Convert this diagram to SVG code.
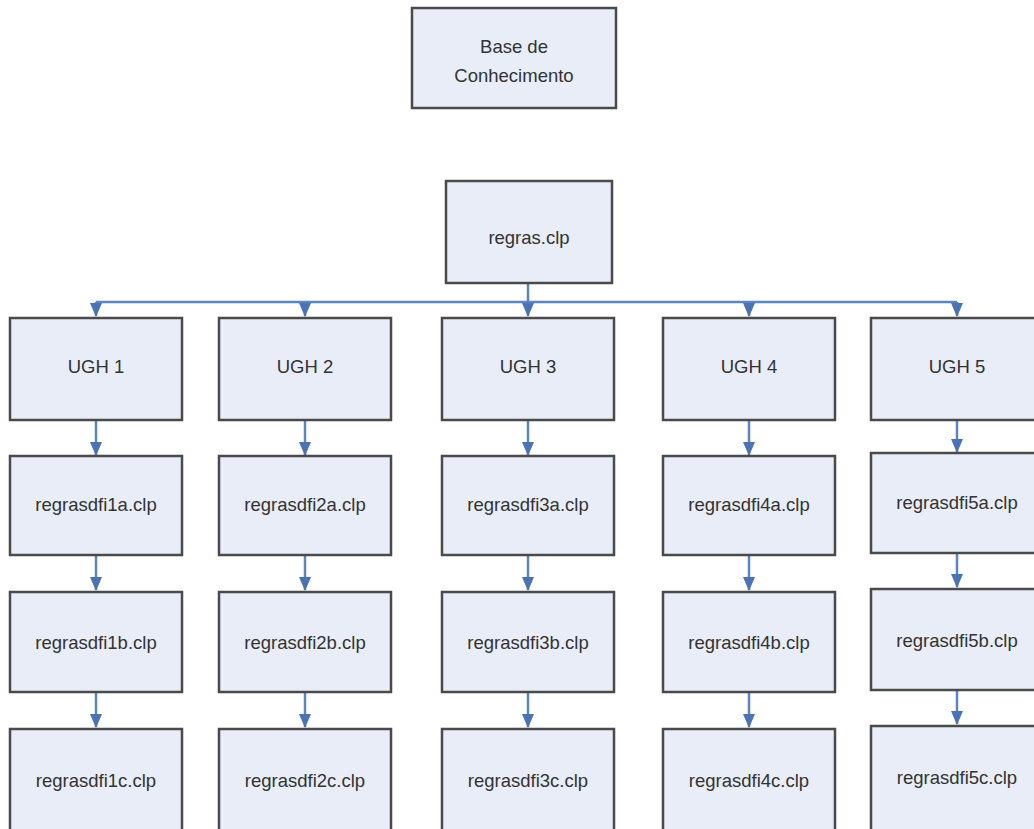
<svg xmlns="http://www.w3.org/2000/svg" width="1034" height="829" viewBox="0 0 1034 829">
<style>
.box{fill:#e8edf7;stroke:#4a4a4a;stroke-width:2.5}
.t{font-family:"Liberation Sans",Arial,sans-serif;font-size:18.5px;fill:#333;text-anchor:middle}
.c{fill:none;stroke:#5b84c4;stroke-width:2.5}
</style>
<defs>
<marker id="ah" markerWidth="14" markerHeight="12" refX="13" refY="6" orient="auto" markerUnits="userSpaceOnUse">
<path d="M0,0 L14,6 L0,12 z" fill="#4a72b8"/>
</marker>
</defs>
<rect width="1034" height="829" fill="#fff"/>
<g id="connectors">
<path class="c" d="M528,284 V316" marker-end="url(#ah)"/>
<path class="c" d="M96,302 H957"/>
<path class="c" d="M96,302 V316" marker-end="url(#ah)"/>
<path class="c" d="M305,302 V316" marker-end="url(#ah)"/>
<path class="c" d="M749,302 V316" marker-end="url(#ah)"/>
<path class="c" d="M957,302 V316" marker-end="url(#ah)"/>
<path class="c" d="M96,421 V455" marker-end="url(#ah)"/>
<path class="c" d="M96,556 V590" marker-end="url(#ah)"/>
<path class="c" d="M96,693 V727" marker-end="url(#ah)"/>
<path class="c" d="M305,421 V455" marker-end="url(#ah)"/>
<path class="c" d="M305,556 V590" marker-end="url(#ah)"/>
<path class="c" d="M305,693 V727" marker-end="url(#ah)"/>
<path class="c" d="M528,421 V455" marker-end="url(#ah)"/>
<path class="c" d="M528,556 V590" marker-end="url(#ah)"/>
<path class="c" d="M528,693 V727" marker-end="url(#ah)"/>
<path class="c" d="M749,421 V455" marker-end="url(#ah)"/>
<path class="c" d="M749,556 V590" marker-end="url(#ah)"/>
<path class="c" d="M749,693 V727" marker-end="url(#ah)"/>
<path class="c" d="M957,421 V452" marker-end="url(#ah)"/>
<path class="c" d="M957,554 V587" marker-end="url(#ah)"/>
<path class="c" d="M957,691 V724" marker-end="url(#ah)"/>
</g>
<g id="base"><rect class="box" x="412" y="8" width="204" height="100"/><text class="t" x="514" y="53">Base de</text><text class="t" x="514" y="82">Conhecimento</text></g>
<g id="regras"><rect class="box" x="446" y="181" width="166" height="102"/><text class="t" x="529" y="244">regras.clp</text></g>
<g id="ugh1"><rect class="box" x="10" y="318" width="172" height="102"/><text class="t" x="96" y="373">UGH 1</text></g>
<g id="ugh2"><rect class="box" x="219" y="318" width="172" height="102"/><text class="t" x="305" y="373">UGH 2</text></g>
<g id="ugh3"><rect class="box" x="442" y="318" width="172" height="102"/><text class="t" x="528" y="373">UGH 3</text></g>
<g id="ugh4"><rect class="box" x="663" y="318" width="172" height="102"/><text class="t" x="749" y="373">UGH 4</text></g>
<g id="ugh5"><rect class="box" x="871" y="318" width="172" height="102"/><text class="t" x="957" y="373">UGH 5</text></g>
<g id="r1a"><rect class="box" x="10" y="456" width="172" height="99"/><text class="t" x="96" y="511">regrasdfi1a.clp</text></g>
<g id="r1b"><rect class="box" x="10" y="592" width="172" height="100"/><text class="t" x="96" y="649">regrasdfi1b.clp</text></g>
<g id="r1c"><rect class="box" x="10" y="729" width="172" height="102"/><text class="t" x="96" y="787">regrasdfi1c.clp</text></g>
<g id="r2a"><rect class="box" x="219" y="456" width="172" height="99"/><text class="t" x="305" y="511">regrasdfi2a.clp</text></g>
<g id="r2b"><rect class="box" x="219" y="592" width="172" height="100"/><text class="t" x="305" y="649">regrasdfi2b.clp</text></g>
<g id="r2c"><rect class="box" x="219" y="729" width="172" height="102"/><text class="t" x="305" y="787">regrasdfi2c.clp</text></g>
<g id="r3a"><rect class="box" x="442" y="456" width="172" height="99"/><text class="t" x="528" y="511">regrasdfi3a.clp</text></g>
<g id="r3b"><rect class="box" x="442" y="592" width="172" height="100"/><text class="t" x="528" y="649">regrasdfi3b.clp</text></g>
<g id="r3c"><rect class="box" x="442" y="729" width="172" height="102"/><text class="t" x="528" y="787">regrasdfi3c.clp</text></g>
<g id="r4a"><rect class="box" x="663" y="456" width="172" height="99"/><text class="t" x="749" y="511">regrasdfi4a.clp</text></g>
<g id="r4b"><rect class="box" x="663" y="592" width="172" height="100"/><text class="t" x="749" y="649">regrasdfi4b.clp</text></g>
<g id="r4c"><rect class="box" x="663" y="729" width="172" height="102"/><text class="t" x="749" y="787">regrasdfi4c.clp</text></g>
<g id="r5a"><rect class="box" x="871" y="453" width="172" height="100"/><text class="t" x="957" y="509">regrasdfi5a.clp</text></g>
<g id="r5b"><rect class="box" x="871" y="589" width="172" height="101"/><text class="t" x="957" y="647">regrasdfi5b.clp</text></g>
<g id="r5c"><rect class="box" x="871" y="726" width="172" height="105"/><text class="t" x="957" y="784">regrasdfi5c.clp</text></g>
</svg>
